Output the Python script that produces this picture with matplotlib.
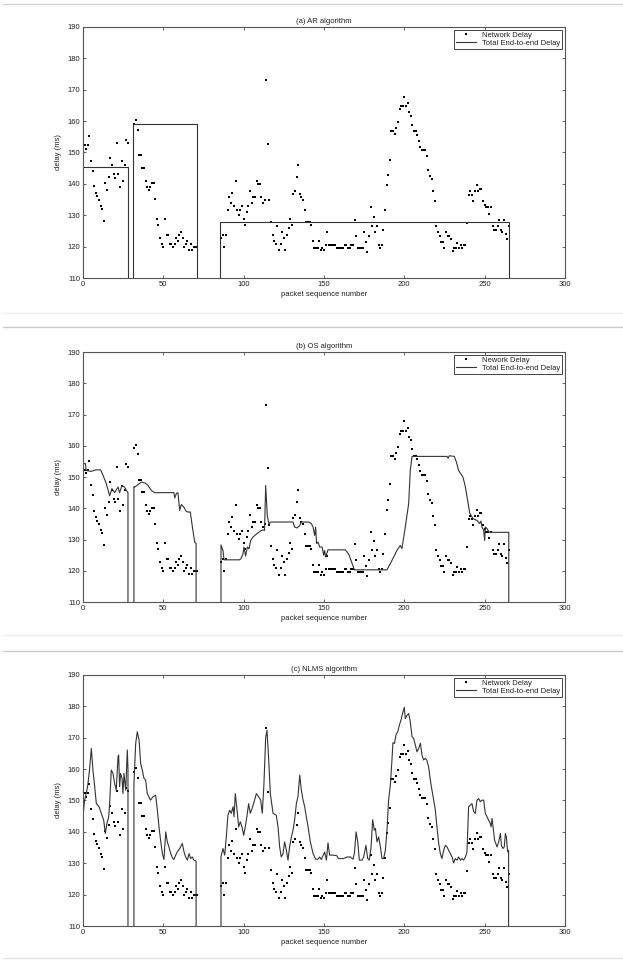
import numpy as np
import matplotlib.pyplot as plt
from matplotlib.lines import Line2D

plt.rcParams['font.family'] = ['Liberation Sans', 'DejaVu Sans']

# network delay (ms) per received packet, three runs of packets
seg_start = [1, 32, 86]
net_seg1 = [152.3, 151.2, 152.3, 155.2, 147.4, 144.1, 139.2, 137.1, 136.0, 135.0,
            133.0, 132.1, 128.1, 140.2, 138.0, 142.1, 148.4, 146.0, 143.0, 142.0,
            153.1, 143.0, 139.1, 147.2, 141.0, 146.0, 154.1, 153.1]
net_seg2 = [159.2, 160.3, 157.3, 149.1, 149.1, 145.1, 145.1, 141.0, 139.1, 138.1,
            139.1, 140.2, 140.2, 135.1, 128.8, 126.9, 122.9, 120.8, 119.9, 128.8,
            123.8, 123.8, 120.8, 120.8, 119.9, 120.8, 122.9, 121.9, 123.8, 124.8,
            122.9, 119.9, 120.8, 121.9, 119.0, 120.8, 119.0, 119.9, 119.9, 119.9]
net_seg3 = [122.9, 123.8, 119.9, 123.8, 131.8, 135.7, 133.9, 137.1, 132.8, 141.0,
            131.8, 130.1, 131.8, 132.8, 128.8, 126.9, 130.9, 132.8, 137.8, 133.9,
            135.7, 135.7, 141.0, 140.1, 140.1, 135.7, 133.9, 135.0, 173.0, 152.8,
            134.8, 127.9, 123.8, 121.9, 120.8, 126.7, 118.8, 120.8, 124.8, 122.9,
            118.8, 123.8, 125.8, 128.8, 126.9, 136.8, 137.8, 142.1, 146.0, 136.8,
            135.7, 134.9, 131.8, 127.9, 127.9, 127.9, 126.9, 121.8, 119.7, 119.7,
            119.7, 121.8, 118.8, 119.7, 118.8, 120.6, 124.8, 120.6, 120.6, 120.6,
            120.6, 120.6, 119.7, 119.7, 119.7, 119.7, 119.7, 120.6, 120.6, 119.7,
            119.7, 120.6, 120.6, 128.5, 123.5, 119.7, 119.7, 119.7, 119.7, 124.6,
            121.6, 118.4, 123.5, 132.5, 126.5, 129.4, 124.6, 126.5, 120.6, 119.7,
            120.6, 125.4, 131.7, 139.5, 142.8, 147.7, 156.7, 156.7, 155.9, 157.7,
            159.7, 163.9, 164.8, 164.8, 167.8, 164.8, 165.8, 162.8, 161.7, 158.9,
            156.7, 156.7, 155.7, 153.8, 151.8, 150.7, 150.7, 150.7, 148.8, 144.5,
            142.6, 141.6, 137.6, 134.6, 126.5, 124.6, 123.5, 121.4, 121.4, 119.7,
            124.6, 123.5, 123.5, 122.4, 118.6, 119.7, 119.7, 121.2, 119.7, 120.6,
            119.7, 120.6, 120.6, 127.5, 136.5, 137.6, 136.5, 134.6, 137.6, 139.5,
            137.6, 138.5, 138.5, 134.6, 133.4, 132.5, 132.5, 130.5, 132.5, 126.5,
            125.4, 125.4, 126.5, 128.5, 125.4, 124.6, 128.5, 124.0, 122.4, 126.5]

# AR playout delay: constant level per talkspurt (0 = no playout)
ar_levels = [145.4, 159.1, 128.0]
ar_ranges = [(0, 28), (32, 71), (86, 265)]

# OS algorithm total delay (packet, ms)
os_pts = [(0, 154.3), (1.5, 154.3), (2, 152.1), (5, 151.8), (8, 152.3), (11, 152.3),
          (12.5, 150.5), (14.5, 147.9), (16.6, 144.0), (18, 146.3), (19.7, 145.0),
          (21.8, 146.8), (22.8, 145.0), (24.3, 147.3), (25.9, 146.8), (27, 145.7),
          (28, 145.0), (28, 0), (31.7, 0), (31.7, 146.9), (32.2, 146.8), (33.6, 147.3),
          (36.3, 148.4), (39, 148.0), (40.5, 147.3), (42.5, 145.7), (44.6, 145.0),
          (56.6, 145.0), (57.1, 143.3), (58.1, 144.7), (59.1, 145.0), (60.2, 139.3),
          (61.2, 141.2), (62.7, 140.4), (64.3, 139.0), (65.4, 138.8), (66.8, 138.8),
          (68.1, 134.0), (69.5, 129.2), (70.4, 128.7), (70.4, 0), (85.9, 0),
          (85.9, 128.3), (87.1, 126.5), (87.8, 123.5), (97.5, 123.5), (98.5, 124.0),
          (99.6, 125.5), (100.2, 127.6), (101.2, 124.7), (102.3, 127.6), (103.3, 127.0),
          (104.4, 129.7), (105.8, 130.8), (107.9, 131.7), (110, 132.6), (112, 133.1),
          (113, 132.9), (113.7, 147.3), (114.7, 137.7), (115.8, 134.7), (116.6, 135.6),
          (130.7, 135.6), (131.7, 134.0), (133.2, 133.7), (134.9, 134.5), (135.9, 135.6),
          (140.7, 135.6), (142.2, 135.0), (143.2, 134.0), (144.2, 131.3), (144.8, 134.0),
          (145.4, 128.7), (146.3, 129.2), (147.3, 127.6), (148.8, 127.6), (149.8, 125.0),
          (150.4, 126.5), (151, 124.4), (152.5, 126.7), (163.3, 126.7), (165.4, 125.3),
          (167.4, 122.5), (168.9, 120.3), (189.2, 120.3), (191.3, 122.3), (195.4, 126.5),
          (197.5, 128.1), (198.5, 127.1), (200.6, 134.0), (202.7, 141.5), (203.7, 152.1),
          (204.8, 156.6), (226.6, 156.6), (227.2, 156.0), (228, 156.8), (231.1, 156.6),
          (232.4, 154.8), (233.8, 152.1), (235.3, 150.9), (236.5, 150.0), (238, 146.8),
          (239.4, 142.5), (240.7, 138.5), (242.7, 136.7), (245.2, 136.1), (246.9, 135.1),
          (247.7, 135.9), (248.3, 134.0), (249.4, 132.9), (250, 129.7), (250.4, 134.0),
          (251.5, 133.5), (252.7, 132.4), (253.5, 132.3), (265, 132.3), (265, 0)]

# NLMS algorithm total delay (packet, ms)
nlms_pts = [(0, 144.8), (1, 150.1), (2, 152.2), (3, 154.9), (4.1, 160.0), (5.2, 166.6),
            (6.2, 159.7), (7.3, 154.4), (8.3, 149.0), (10, 148.0), (11.4, 145.9),
            (12.9, 143.7), (13.9, 139.5), (14.9, 142.7), (16, 144.8), (16.6, 149.0),
            (17.6, 159.7), (18.7, 158.6), (19.7, 155.4), (20.7, 153.3), (21.8, 163.9),
            (22.2, 164.5), (22.8, 154.4), (23.4, 158.6), (24.3, 157.0), (24.9, 152.2),
            (25.5, 158.6), (26.6, 153.3), (27.6, 166.1), (28, 160.0), (28, 0), (31.7, 0),
            (31.7, 155.0), (32.8, 168.2), (33.8, 171.9), (34.9, 169.3), (35.9, 161.8),
            (36.9, 159.7), (38, 157.0), (39, 156.5), (40, 152.2), (41, 151.2), (42, 150.1),
            (43.6, 151.2), (45.2, 151.7), (46.3, 146.9), (47.3, 141.6), (48.3, 137.3),
            (49.4, 133.1), (50.4, 131.2), (51.5, 140.0), (52.5, 136.8), (53.5, 135.2),
            (54.6, 133.1), (55.6, 131.8), (56.6, 131.2), (57.7, 132.6), (58.7, 133.6),
            (60.2, 134.7), (61.8, 136.3), (62.9, 133.6), (63.9, 132.0), (65, 131.0),
            (66, 133.1), (67, 131.5), (68, 132.0), (69, 131.0), (70.4, 130.7), (70.4, 0),
            (85.9, 0), (85.9, 132.0), (87.1, 134.7), (88.2, 132.6), (89.2, 138.4),
            (90.2, 145.3), (91.3, 146.9), (92.3, 145.9), (93.4, 148.0), (94, 144.8),
            (94.8, 152.2), (95.9, 146.9), (96.9, 141.6), (97.9, 143.2), (99, 141.6),
            (100, 138.9), (101, 141.6), (102, 144.8), (103.1, 149.0), (104.1, 145.9),
            (105.2, 147.4), (106.2, 149.0), (107.9, 152.2), (109.3, 151.2), (110.6, 150.1),
            (111.6, 145.9), (112.6, 155.0), (113.7, 170.0), (114.5, 172.4), (115.6, 162.9),
            (116.6, 152.2), (118.3, 145.9), (120.3, 145.3), (121.4, 141.6), (122.4, 135.2),
            (123.4, 132.0), (124.5, 133.1), (125.5, 136.8), (126.6, 134.1), (127.6, 131.0),
            (128.6, 135.2), (129.7, 138.4), (130.7, 140.5), (131.7, 143.7), (132.8, 149.0),
            (133.8, 151.2), (134.4, 154.9), (134.9, 158.1), (135.9, 153.3), (137, 150.1),
            (138, 148.0), (139, 144.8), (140.1, 141.6), (141.5, 136.8), (143.2, 133.1),
            (144.8, 131.3), (146.3, 131.3), (147.3, 132.0), (148.3, 131.2), (149.4, 132.5),
            (150.4, 133.6), (151.5, 131.0), (152.5, 136.5), (153.5, 132.6), (155.6, 132.6),
            (158, 132.4), (159, 131.5), (162.2, 131.5), (164.3, 132.0), (166.4, 132.0),
            (168.1, 131.3), (168.9, 133.1), (170, 140.0), (171, 136.8), (172, 131.0),
            (173.7, 131.0), (174.7, 132.0), (176.1, 135.7), (177.2, 131.5), (178.2, 131.0),
            (179.3, 135.2), (180.3, 143.9), (181.3, 140.5), (182, 141.1), (183, 136.8),
            (184, 138.4), (185.1, 135.2), (186.1, 131.5), (187.1, 131.5), (188.2, 134.1),
            (189.2, 140.5), (190.2, 150.1), (191.3, 154.9), (192.3, 162.9), (192.9, 168.4),
            (193.9, 168.2), (194.8, 170.9), (195.9, 171.9), (196.9, 174.0), (197.9, 175.6),
            (199.2, 178.3), (200, 179.7), (200.6, 176.1), (201.7, 177.2), (202.7, 177.7),
            (203.7, 175.1), (204.8, 170.3), (205.8, 169.8), (206.8, 167.7), (207.9, 165.5),
            (208.9, 166.6), (210, 168.2), (211, 164.5), (212, 162.9), (213, 163.4),
            (214, 162.9), (215.1, 160.7), (216.2, 156.5), (217.2, 153.3), (218.3, 150.1),
            (219.3, 146.9), (220.3, 141.6), (221.4, 136.3), (222.4, 133.1), (223.4, 131.5),
            (224.5, 134.1), (225.5, 135.7), (226.6, 135.2), (227.6, 134.1), (228.6, 133.1),
            (229.7, 132.0), (230.7, 130.1), (231.7, 131.5), (232.8, 131.0), (233.8, 132.0),
            (234.9, 131.0), (235.9, 131.5), (236.9, 131.0), (238, 132.0), (239, 133.6),
            (240, 148.0), (241, 148.5), (242.1, 149.0), (243.2, 146.4), (244.2, 145.9),
            (245.2, 150.1), (246.3, 150.6), (247.3, 149.6), (248.3, 150.1), (249.4, 150.1),
            (250.4, 145.9), (251.5, 144.8), (252.5, 143.7), (253.5, 142.7), (254, 141.6),
            (254.6, 144.3), (255.2, 141.6), (256.2, 137.3), (257.7, 135.2), (258.7, 136.8),
            (259.8, 139.5), (260.4, 135.7), (261.4, 134.7), (262.2, 135.2), (262.9, 139.5),
            (263.5, 138.4), (264.3, 133.6), (264.9, 134.1), (264.9, 0)]

titles = ["(a) AR algorithm", "(b) OS algorithm", "(c) NLMS algorithm"]
dot_labels = ["Network Delay", "Nework Delay", "Network Delay"]
line_label = "Total End-to-end Delay"

# build dot series
pkt = np.concatenate([np.arange(s, s + len(v)) for s, v in
                      zip(seg_start, [net_seg1, net_seg2, net_seg3])])
net = np.concatenate([net_seg1, net_seg2, net_seg3])

# AR step series
ar_x = np.arange(0, 267)
ar_y = np.zeros(len(ar_x))
for (a, b), lv in zip(ar_ranges, ar_levels):
    ar_y[a:b + 1] = lv

os_x, os_y = zip(*os_pts)
nl_x, nl_y = zip(*nlms_pts)

fig = plt.figure(figsize=(6.23, 9.6), dpi=100)
txt = '#222222'
ax_rects = [[0.1332, 0.7104, 0.7737, 0.2615],
            [0.1332, 0.3729, 0.7737, 0.2604],
            [0.1332, 0.0354, 0.7737, 0.2615]]

for i, rect in enumerate(ax_rects):
    ax = fig.add_axes(rect)
    ax.plot(pkt, net, linestyle='none', marker='s', markersize=1.5,
            color='black', markeredgewidth=0, label=dot_labels[i])
    if i == 0:
        ax.plot(ar_x, ar_y, color='#333333', lw=0.8, drawstyle='steps-pre',
                label=line_label)
    elif i == 1:
        ax.plot(os_x, os_y, color='#333333', lw=0.8, label=line_label)
    else:
        ax.plot(nl_x, nl_y, color='#333333', lw=0.8, label=line_label)
    ax.set_xlim(0, 300)
    ax.set_ylim(110, 190)
    ax.set_xticks(range(0, 301, 50))
    ax.set_yticks(range(110, 191, 10))
    ax.tick_params(direction='in', top=True, right=True, length=2.5, width=0.6,
                   labelsize=5.5, colors='#444444', labelcolor=txt, pad=2)
    for sp in ax.spines.values():
        sp.set_color('#555555')
        sp.set_linewidth(0.8)
    ax.set_title(titles[i], fontsize=5.5, color=txt, pad=3)
    ax.set_xlabel("packet sequence number", fontsize=5.5, color=txt, labelpad=2)
    ax.set_ylabel("delay (ms)", fontsize=5.5, color=txt, labelpad=4)
    leg = ax.legend(loc='upper right', fontsize=5.5, frameon=True, fancybox=False,
                    edgecolor='#444444', framealpha=1, borderaxespad=0.35,
                    borderpad=0.25, labelspacing=0.1, handlelength=2.6,
                    handletextpad=0.8, markerscale=1.2)
    leg.get_frame().set_linewidth(0.7)
    for t in leg.get_texts():
        t.set_color(txt)

# page separator lines
for yy, c in [(4, '#d4d4d4'), (313, '#eeeeee'), (327, '#cccccc'),
              (635, '#eeeeee'), (651, '#cccccc'), (958, '#e2e2e2')]:
    fig.add_artist(Line2D([0.005, 1.0], [1 - yy / 960, 1 - yy / 960],
                          transform=fig.transFigure, color=c, lw=1.0))

fig.savefig("out.png", dpi=100)
